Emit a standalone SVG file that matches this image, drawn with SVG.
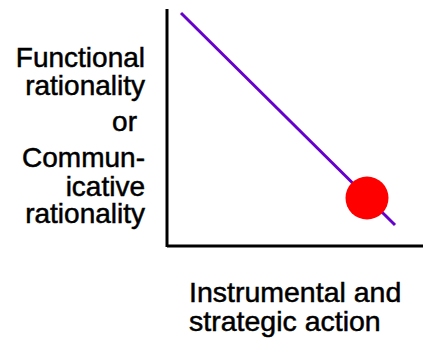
<svg xmlns="http://www.w3.org/2000/svg" width="424" height="338" viewBox="0 0 424 338">
<style>
.lbl{font-family:"Liberation Sans",Arial,sans-serif;fill:#000;stroke:#000;stroke-width:0.5;}
.y{font-size:28px;text-anchor:end;}
.x{font-size:28.5px;}
.axis{stroke:#000;stroke-width:3;fill:none;}
</style>
<rect width="424" height="338" fill="#fff"/>
<g id="connectors">
<line class="axis" x1="167" y1="9" x2="167" y2="247"/>
<line class="axis" x1="167" y1="246" x2="423" y2="246"/>
<line x1="181" y1="13" x2="395" y2="225" stroke="#6600CC" stroke-width="3"/>
</g>
<g id="y-label">
<text class="lbl y" x="145" y="67">Functional</text>
<text class="lbl y" x="145" y="95">rationality</text>
<text class="lbl y" x="137" y="131">or</text>
<text class="lbl y" x="145" y="167">Commun-</text>
<text class="lbl y" x="145" y="196">icative</text>
<text class="lbl y" x="145" y="223">rationality</text>
</g>
<g id="x-label">
<text class="lbl x" x="189" y="302">Instrumental and</text>
<text class="lbl x" x="189" y="331">strategic action</text>
</g>
<g id="point">
<circle cx="367" cy="198" r="21.5" fill="#FF0000"/>
</g>
</svg>
